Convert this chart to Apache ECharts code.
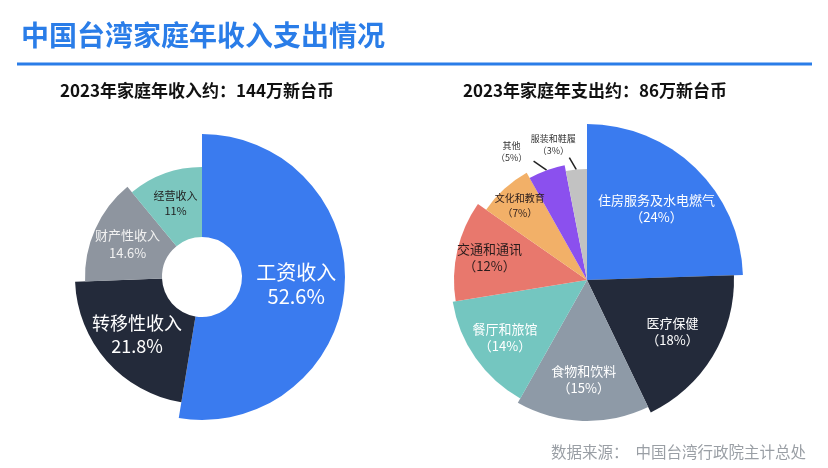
<!DOCTYPE html>
<html>
<head>
<meta charset="utf-8">
<script src="https://cdn.jsdelivr.net/npm/echarts@6/dist/echarts.min.js"></script>
<style>
  html, body { margin: 0; padding: 0; background: #fff; }
  #main { width: 828px; height: 468px; }
</style>
</head>
<body>
<div id="main"></div>
<script>
const incomeNames = ['工资收入', '转移性收入', '财产性收入', '经营收入']
const incomeValues = [52.6, 21.8, 14.6, 11]
const spendNames = ['住房服务及水电燃气', '医疗保健', '食物和饮料', '餐厅和旅馆', '交通和通讯', '文化和教育', '其他', '服装和鞋履']
const spendValues = [24, 18, 15, 14, 12, 7, 5, 3]

const FONT = 'Noto Sans CJK SC'
const HIDDEN = 'rgba(0,0,0,0)'

const incomeColors = ['#3a7bef', '#232a3a', '#8e959f', '#7cc7bf']
const incomeRadius = [143, 127, 117, 110]
const incomeLabels = [
  { fontSize: 20, lineHeight: 24, color: '#fff' },
  { fontSize: 18, lineHeight: 23, color: '#fff' },
  { fontSize: 13, lineHeight: 18, color: '#f2f2f2' },
  { fontSize: 11, lineHeight: 15, color: '#222' }
]

const spendColors = ['#3a7bef', '#232a3a', '#8e9aa7', '#74c6c0', '#e8786d', '#f2b068', '#8b50ee', '#c2c2c2']
const spendRadius = [156, 147, 141, 136, 133, 123, 117, 111]
const spendLabels = [
  { fontSize: 13, lineHeight: 17, color: '#fff' },
  { fontSize: 13, lineHeight: 17, color: '#fff' },
  { fontSize: 13, lineHeight: 17, color: '#fff' },
  { fontSize: 13, lineHeight: 17, color: '#fff' },
  { fontSize: 13, lineHeight: 17, color: '#2a1c1c' },
  { fontSize: 10, lineHeight: 15, color: '#2a1c1c' }
]
// 小扇区标签放外面：引线方向和文字中心相对扇区边缘点的偏移
const outsideLabel = {
  6: { line: [-13, -9], text: [-35, -19] },
  7: { line: [-7, -12], text: [-23, -25] }
}

function outsideLayout (i, isSpend) {
  const cfg = isSpend && outsideLabel[i]
  if (!cfg) return null
  return (p) => {
    const pts = p.labelLinePoints
    if (!pts) return {}
    const s = pts[0]
    return {
      x: s[0] + cfg.text[0],
      y: s[1] + cfg.text[1],
      align: 'center',
      verticalAlign: 'middle',
      labelLinePoints: [s, [s[0] + cfg.line[0], s[1] + cfg.line[1]]]
    }
  }
}

// 每块扇形单独一个系列，外半径各不相同
const sliceSeries = (names, values, colors, radius, hole, center, labelFor) => {
  const isSpend = names === spendNames
  return values.map((v, i) => ({
    type: 'pie',
    center,
    radius: [hole, radius[i]],
    startAngle: 90,
    silent: true,
    animation: false,
    avoidLabelOverlap: false,
    itemStyle: { borderWidth: 0 },
    label: { show: false },
    labelLine: { show: false },
    labelLayout: outsideLayout(i, isSpend),
    data: values.map((value, j) => ({
      name: names[j],
      value,
      itemStyle: { color: j === i ? colors[i] : HIDDEN },
      label: j === i && labelFor ? labelFor(i) : { show: false },
      labelLine: {
        show: j === i && isSpend && outsideLabel[i] != null,
        length: 10,
        length2: 0,
        lineStyle: { color: '#222', width: 1.5 }
      }
    }))
  }))
}

const leftCenter = [202, 277]
const rightCenter = [587, 280]

const incomeSeries = sliceSeries(incomeNames, incomeValues, incomeColors, incomeRadius, 40, leftCenter, (i) => ({
  show: true,
  position: 'inside',
  formatter: '{b}\n{c}%',
  fontFamily: FONT,
  ...incomeLabels[i]
}))

const spendSeries = sliceSeries(spendNames, spendValues, spendColors, spendRadius, 0, rightCenter, (i) => {
  if (!outsideLabel[i]) return { show: false }
  return {
    show: true,
    position: 'outside',
    formatter: '{b}\n（{c}%）',
    fontFamily: FONT,
    fontSize: 9,
    lineHeight: 12,
    color: '#333'
  }
})

// 右图内部标签统一放在同一半径上
const spendLabelSeries = {
  type: 'pie',
  center: rightCenter,
  radius: [38, 156],
  startAngle: 90,
  silent: true,
  animation: false,
  avoidLabelOverlap: false,
  itemStyle: { color: HIDDEN, borderWidth: 0 },
  labelLine: { show: false },
  data: spendValues.map((value, j) => ({
    name: spendNames[j],
    value,
    label: spendLabels[j]
      ? { show: true, position: 'inside', formatter: '{b}\n（{c}%）', fontFamily: FONT, ...spendLabels[j] }
      : { show: false }
  }))
}

const chart = echarts.init(document.getElementById('main'))
chart.setOption({
  backgroundColor: '#fff',
  textStyle: { fontFamily: FONT },
  graphic: [
    {
      type: 'text', left: 21, top: 21,
      style: { text: '中国台湾家庭年收入支出情况', fontSize: 28, fontWeight: 'bold', fill: '#2a7de8', fontFamily: FONT }
    },
    {
      type: 'line',
      shape: { x1: 17, y1: 64, x2: 812, y2: 64 },
      style: { stroke: '#2a7de8', lineWidth: 3 }
    },
    {
      type: 'text', x: 197, y: 91,
      style: { text: '2023年家庭年收入约：144万新台币', fontSize: 17, fontWeight: 'bold', fill: '#111', fontFamily: FONT, align: 'center', verticalAlign: 'middle' }
    },
    {
      type: 'text', x: 595, y: 91,
      style: { text: '2023年家庭年支出约：86万新台币', fontSize: 17, fontWeight: 'bold', fill: '#111', fontFamily: FONT, align: 'center', verticalAlign: 'middle' }
    },
    {
      type: 'text', x: 806, y: 452,
      style: { text: '数据来源：  中国台湾行政院主计总处', fontSize: 15.5, fill: '#9a9fa5', fontFamily: FONT, align: 'right', verticalAlign: 'middle' }
    }
  ],
  series: [...incomeSeries, ...spendSeries, spendLabelSeries]
})
</script>
</body>
</html>
